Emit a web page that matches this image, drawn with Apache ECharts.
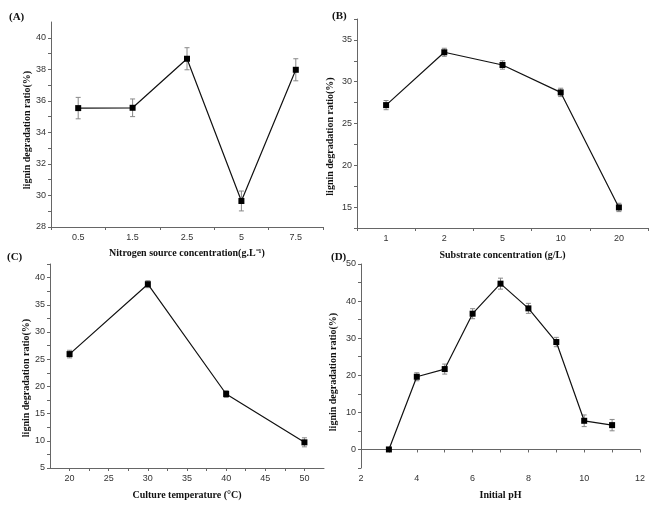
<!DOCTYPE html>
<html>
<head>
<meta charset="utf-8">
<script src="https://cdn.jsdelivr.net/npm/echarts@6/dist/echarts.min.js"></script>
<style>
  html, body { margin: 0; padding: 0; background: #fff; }
  #main { width: 659px; height: 508px; }
</style>
</head>
<body>
<div id="main"></div>
<script>
// (A) nitrogen source
const nitrogenCats = ['0.5', '1.5', '2.5', '5', '7.5'];
const nitrogenVals = [35.54, 35.56, 38.67, 29.65, 37.97];
const nitrogenErr = [0.68, 0.56, 0.70, 0.63, 0.70];

// (B) substrate concentration
const substrateCats = ['1', '2', '5', '10', '20'];
const substrateVals = [27.2, 33.52, 32.0, 28.72, 14.96];
const substrateErr = [0.55, 0.48, 0.5, 0.5, 0.5];

// (C) culture temperature
const tempX = [20, 30, 40, 50];
const tempVals = [25.94, 38.79, 18.6, 9.72];
const tempErr = [0.7, 0.64, 0.64, 0.83];

// (D) initial pH
const phX = [3, 4, 5, 6, 7, 8, 9, 10, 11];
const phVals = [0, 19.6, 21.67, 36.6, 44.7, 38.04, 28.96, 7.73, 6.56];
const phErr = [0.2, 1.08, 1.35, 1.35, 1.48, 1.35, 1.26, 1.57, 1.53];

const yTitle = 'lignin degradation ratio(%)';

const chart = echarts.init(document.getElementById('main'), null, { renderer: 'canvas' });

const axisColor = '#666';
const labelStyle = { color: '#333', fontSize: 9, fontFamily: 'Liberation Sans' };
const nameStyle = { color: '#111', fontSize: 10, fontWeight: 'bold', fontFamily: 'Liberation Serif' };

function baseAxis(extra) {
  return Object.assign({
    axisLine: { show: true, lineStyle: { color: axisColor, width: 1 } },
    axisTick: { show: true, length: 3, lineStyle: { color: axisColor } },
    splitLine: { show: false },
    nameLocation: 'middle',
    nameTextStyle: nameStyle
  }, extra);
}

// y titles sit a bit below the middle of the axis in the original
function shiftedName(pad) {
  return Object.assign({}, nameStyle, { padding: [0, pad, 0, 0] });
}

function everyOther(step) {
  return function (v) {
    return Math.abs(v / step - Math.round(v / step)) < 1e-6 ? String(v) : '';
  };
}

// error bars with caps, drawn through the axis scales
function errorBars(params, api) {
  const x = api.value(0);
  const y = api.value(1);
  const e = api.value(2);
  const hi = api.coord([x, y + e]);
  const lo = api.coord([x, y - e]);
  const w = 2.5;
  const style = { stroke: '#888', lineWidth: 1 };
  return {
    type: 'group',
    children: [
      { type: 'line', shape: { x1: hi[0], y1: hi[1], x2: lo[0], y2: lo[1] }, style: style },
      { type: 'line', shape: { x1: hi[0] - w, y1: hi[1], x2: hi[0] + w, y2: hi[1] }, style: style },
      { type: 'line', shape: { x1: lo[0] - w, y1: lo[1], x2: lo[0] + w, y2: lo[1] }, style: style }
    ]
  };
}

function lineSeries(idx, data) {
  return {
    type: 'line',
    xAxisIndex: idx,
    yAxisIndex: idx,
    data: data,
    symbol: 'rect',
    symbolSize: 6,
    lineStyle: { color: '#111', width: 1.2 },
    itemStyle: { color: '#000' },
    z: 3,
    animation: false
  };
}

function errSeries(idx, data) {
  return {
    type: 'custom',
    xAxisIndex: idx,
    yAxisIndex: idx,
    renderItem: errorBars,
    data: data,
    z: 2,
    animation: false
  };
}

const option = {
  backgroundColor: '#fff',
  animation: false,
  title: [
    { text: '(A)', left: 9, top: 12 },
    { text: '(B)', left: 332, top: 11 },
    { text: '(C)', left: 7, top: 252 },
    { text: '(D)', left: 331, top: 252 }
  ].map(t => Object.assign(t, {
    padding: 0,
    textStyle: { color: '#111', fontSize: 11, fontWeight: 'bold', fontFamily: 'Liberation Serif' }
  })),
  grid: [
    { left: 51, top: 22, width: 272, height: 205 },
    { left: 357, top: 19, width: 291, height: 209 },
    { left: 50, top: 264, width: 274, height: 204 },
    { left: 361, top: 264, width: 279, height: 204 }
  ],
  xAxis: [
    baseAxis({
      type: 'category', gridIndex: 0, data: nitrogenCats, boundaryGap: true,
      name: 'Nitrogen source concentration(g.L\u207B\u00B9)', nameGap: 21,
      axisLabel: Object.assign({ margin: 6 }, labelStyle)
    }),
    baseAxis({
      type: 'category', gridIndex: 1, data: substrateCats, boundaryGap: true,
      name: 'Substrate concentration (g/L)', nameGap: 22,
      axisLabel: Object.assign({ margin: 6 }, labelStyle)
    }),
    baseAxis({
      type: 'value', gridIndex: 2, min: 17.5, max: 52.5, interval: 2.5,
      name: 'Culture temperature (\u00B0C)', nameGap: 22,
      axisLabel: Object.assign({ margin: 6, formatter: everyOther(5), showMinLabel: false, showMaxLabel: false }, labelStyle)
    }),
    baseAxis({
      type: 'value', gridIndex: 3, min: 2, max: 12, interval: 1,
      name: 'Initial pH', nameGap: 22,
      axisLabel: Object.assign({ margin: 6, formatter: everyOther(2) }, labelStyle)
    })
  ],
  yAxis: [
    baseAxis({
      type: 'value', gridIndex: 0, min: 28, max: 41, interval: 1,
      name: yTitle, nameGap: 18, nameTextStyle: shiftedName(11),
      axisLabel: Object.assign({ margin: 5, formatter: everyOther(2), showMaxLabel: false }, labelStyle)
    }),
    baseAxis({
      type: 'value', gridIndex: 1, min: 12.5, max: 37.5, interval: 2.5,
      name: yTitle, nameGap: 22, nameTextStyle: shiftedName(26),
      axisLabel: Object.assign({ margin: 5, formatter: everyOther(5) }, labelStyle)
    }),
    baseAxis({
      type: 'value', gridIndex: 2, min: 5, max: 42.5, interval: 2.5,
      name: yTitle, nameGap: 18, nameTextStyle: shiftedName(24),
      axisLabel: Object.assign({ margin: 5, formatter: everyOther(5) }, labelStyle)
    }),
    baseAxis({
      type: 'value', gridIndex: 3, min: -5, max: 50, interval: 5,
      name: yTitle, nameGap: 23, nameTextStyle: shiftedName(12),
      axisLabel: Object.assign({ margin: 5, formatter: everyOther(10) }, labelStyle)
    })
  ],
  series: [
    errSeries(0, nitrogenVals.map((v, i) => [i, v, nitrogenErr[i]])),
    lineSeries(0, nitrogenVals.map((v, i) => [i, v])),
    errSeries(1, substrateVals.map((v, i) => [i, v, substrateErr[i]])),
    lineSeries(1, substrateVals.map((v, i) => [i, v])),
    errSeries(2, tempVals.map((v, i) => [tempX[i], v, tempErr[i]])),
    lineSeries(2, tempVals.map((v, i) => [tempX[i], v])),
    errSeries(3, phVals.map((v, i) => [phX[i], v, phErr[i]])),
    lineSeries(3, phVals.map((v, i) => [phX[i], v]))
  ]
};

chart.setOption(option);
</script>
</body>
</html>
